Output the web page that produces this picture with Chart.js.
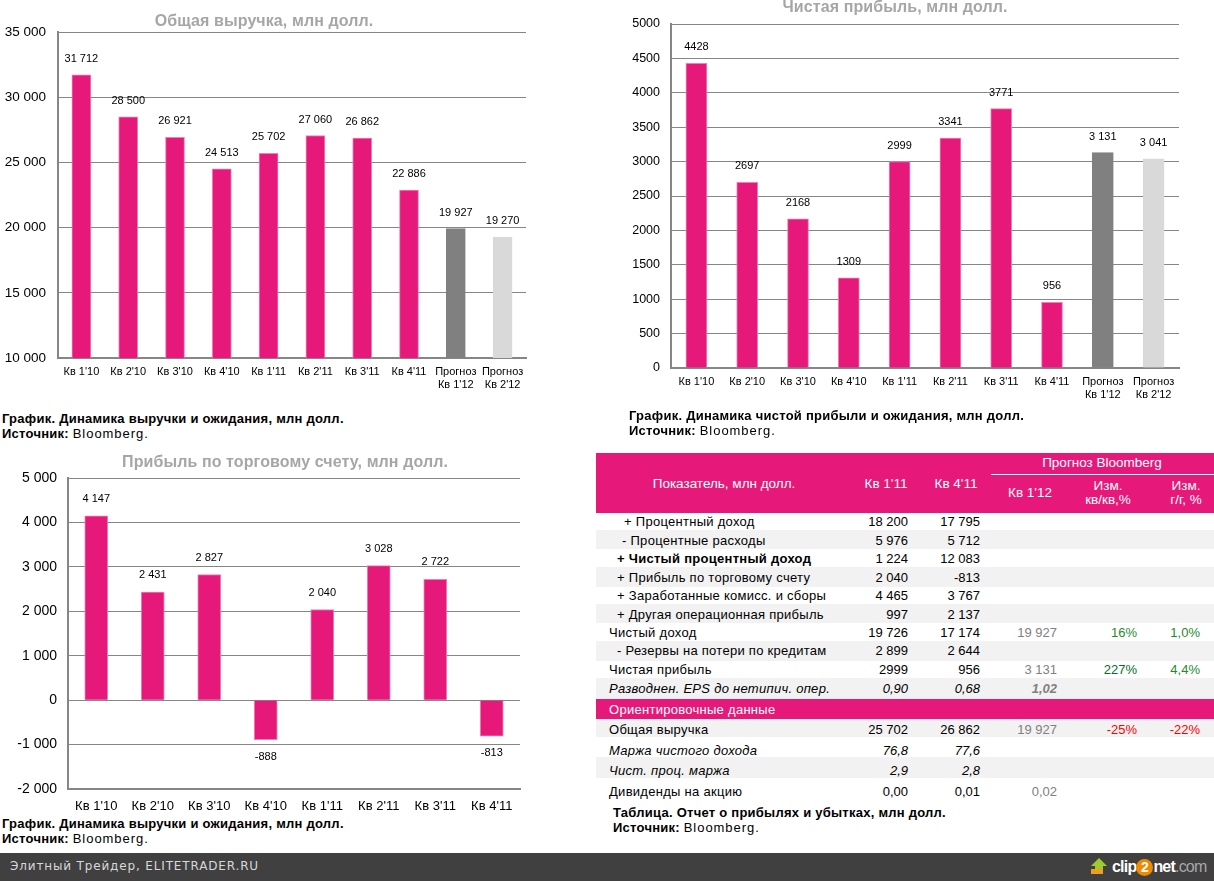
<!DOCTYPE html>
<html>
<head>
<meta charset="utf-8">
<title>Отчет</title>
<script src="https://cdn.jsdelivr.net/npm/chart.js@4/dist/chart.umd.min.js"></script>
<style>
  html, body { margin: 0; padding: 0; background: #fff; }
  body { width: 1214px; height: 881px; position: relative; overflow: hidden; font-family: "Liberation Sans", Arial, sans-serif; color: #000; }
  canvas { position: absolute; }
  .title { position: absolute; font-size: 16px; font-weight: bold; color: #a6a6a6; white-space: nowrap; transform: translateX(-50%); line-height: 18px; letter-spacing: .1px; }
  .note { position: absolute; font-size: 13px; line-height: 15px; white-space: nowrap; letter-spacing: .25px; }
  .note b { font-weight: bold; }
  .note span { letter-spacing: .95px; }
  #table { position: absolute; left: 596px; top: 453px; width: 618px; height: 346px; font-size: 13px; }
  .row { position: absolute; left: 0; width: 618px; }
  .cell { position: absolute; white-space: nowrap; }
  .cell.name { letter-spacing: .28px; }
  .head { position: absolute; color: #fff; text-align: center; transform: translateX(-50%); line-height: 14px; white-space: nowrap; font-size: 13.5px; }
  #footer { position: absolute; left: 0; top: 853px; width: 1214px; height: 28px; background: #404040; }
  #footer span.site { position: absolute; left: 10px; top: 6px; font: 12px "DejaVu Sans", sans-serif; color: #d8d8d8; letter-spacing: .85px; }
  #logo { position: absolute; left: 1112px; top: 3px; font: bold 16px "Liberation Sans", sans-serif; letter-spacing: -.8px; color: #fff; line-height: 22px; }
  #logo i { font-style: normal; display: inline-block; width: 17px; height: 17px; line-height: 17px; border-radius: 9px; background: #f08a00; text-align: center; font-size: 14px; letter-spacing: 0; }
  #logo em { font-style: normal; font-weight: normal; color: #a8a8a8; }
</style>
</head>
<body>
<canvas id="revenueChart" style="left:0;top:0" width="560" height="410"></canvas>
<canvas id="netChart" style="left:600px;top:0" width="614" height="410"></canvas>
<canvas id="tradingChart" style="left:0;top:450px" width="560" height="365"></canvas>

<div class="title" style="left:264px;top:12px">Общая выручка, млн долл.</div>
<div class="title" style="left:895px;top:-2px">Чистая прибыль, млн долл.</div>
<div class="title" style="left:285px;top:453px">Прибыль по торговому счету, млн долл.</div>

<div class="note" style="left:2px;top:411px"><b>График. Динамика выручки и ожидания, млн долл.</b><br><b>Источник:</b> <span>Bloomberg.</span></div>
<div class="note" style="left:629px;top:408px"><b>График. Динамика чистой прибыли и ожидания, млн долл.</b><br><b>Источник:</b> <span>Bloomberg.</span></div>
<div class="note" style="left:2px;top:816px"><b>График. Динамика выручки и ожидания, млн долл.</b><br><b>Источник:</b> <span>Bloomberg.</span></div>
<div class="note" style="left:613px;top:805px"><b>Таблица. Отчет о прибылях и убытках, млн долл.</b><br><b>Источник:</b> <span>Bloomberg.</span></div>

<div id="table"></div>

<div id="footer">
  <span class="site">Элитный Трейдер, ELITETRADER.RU</span>
  <svg style="position:absolute;left:1090px;top:4px" width="18" height="20" viewBox="0 0 18 20">
    <path d="M9 1 L17 9 L13 9 L13 14 L5 14 L5 9 L1 9 Z" fill="#9ccc2e"/>
    <rect x="1" y="12" width="12" height="5" fill="#f0a020"/>
  </svg>
  <div id="logo">clip<i>2</i>net<em>.com</em></div>
</div>

<script>
const quarters = ["Кв 1'10", "Кв 2'10", "Кв 3'10", "Кв 4'10", "Кв 1'11", "Кв 2'11", "Кв 3'11", "Кв 4'11"];
const forecastQuarters = [['Прогноз', "Кв 1'12"], ['Прогноз', "Кв 2'12"]];

const revenue = [31712, 28500, 26921, 24513, 25702, 27060, 26862, 22886, 19927, 19270];
const revenueLabels = ['31 712', '28 500', '26 921', '24 513', '25 702', '27 060', '26 862', '22 886', '19 927', '19 270'];
const netIncome = [4428, 2697, 2168, 1309, 2999, 3341, 3771, 956, 3131, 3041];
const netIncomeLabels = ['4428', '2697', '2168', '1309', '2999', '3341', '3771', '956', '3 131', '3 041'];
const tradingIncome = [4147, 2431, 2827, -888, 2040, 3028, 2722, -813];
const tradingLabels = ['4 147', '2 431', '2 827', '-888', '2 040', '3 028', '2 722', '-813'];

// table columns
const rowNames = ['+ Процентный доход', '- Процентные расходы', '+ Чистый процентный доход', '+ Прибыль по торговому счету',
  '+ Заработанные комисс. и сборы', '+ Другая операционная прибыль', 'Чистый доход', '- Резервы на потери по кредитам',
  'Чистая прибыль', 'Разводнен. EPS до нетипич. опер.', 'Ориентировочные данные', 'Общая выручка', 'Маржа чистого дохода',
  'Чист. проц. маржа', 'Дивиденды на акцию'];
const colQ111 = ['18 200', '5 976', '1 224', '2 040', '4 465', '997', '19 726', '2 899', '2999', '0,90', '', '25 702', '76,8', '2,9', '0,00'];
const colQ411 = ['17 795', '5 712', '12 083', '-813', '3 767', '2 137', '17 174', '2 644', '956', '0,68', '', '26 862', '77,6', '2,8', '0,01'];
const colQ112 = ['', '', '', '', '', '', '19 927', '', '3 131', '1,02', '', '19 927', '', '', '0,02'];
const colQoQ = ['', '', '', '', '', '', '16%', '', '227%', '', '', '-25%', '', '', ''];
const colYoY = ['', '', '', '', '', '', '1,0%', '', '4,4%', '', '', '-22%', '', '', ''];

const pink = '#e6197a';
const paleEdge = '#f07fb4';
const gridGrey = '#868686';
const barColors = [pink, pink, pink, pink, pink, pink, pink, pink, '#808080', '#d9d9d9'];
const barEdges = [paleEdge, paleEdge, paleEdge, paleEdge, paleEdge, paleEdge, paleEdge, paleEdge, '#808080', '#d9d9d9'];

// value labels over the bars
const valueLabelPlugin = {
  id: 'valueLabels',
  afterDatasetsDraw(chart, args, opts) {
    const ctx = chart.ctx;
    const meta = chart.getDatasetMeta(0);
    ctx.save();
    ctx.font = '11px "Liberation Sans"';
    ctx.fillStyle = '#000';
    ctx.textAlign = 'center';
    ctx.textBaseline = 'middle';
    meta.data.forEach((bar, i) => {
      const up = chart.data.datasets[0].data[i] >= 0;
      ctx.fillText(opts.text[i], bar.x, bar.y + (up ? -opts.gap : opts.gap));
    });
    ctx.restore();
  }
};

function barChart(id, cfg) {
  const canvas = document.getElementById(id);
  return new Chart(canvas.getContext('2d'), {
    type: 'bar',
    plugins: [valueLabelPlugin],
    data: {
      labels: cfg.labels,
      datasets: [{ data: cfg.values, backgroundColor: cfg.colors, borderColor: cfg.edges, borderWidth: 1, barThickness: cfg.barWidth }]
    },
    options: {
      responsive: false,
      animation: false,
      devicePixelRatio: 1,
      layout: { padding: { top: cfg.top, right: canvas.width - cfg.right, left: 0, bottom: 0 } },
      plugins: {
        legend: { display: false },
        tooltip: { enabled: false },
        valueLabels: { text: cfg.valueLabels, gap: cfg.gap }
      },
      scales: {
        x: {
          grid: { display: false, drawTicks: false },
          border: { color: gridGrey, width: 2 },
          ticks: { color: '#000', font: { family: 'Liberation Sans', size: cfg.xFont, lineHeight: 1.2 }, maxRotation: 0, autoSkip: false, padding: cfg.xPad },
          afterFit(scale) { scale.height = cfg.xHeight; }
        },
        y: {
          min: cfg.min,
          max: cfg.max,
          grid: { color: gridGrey, lineWidth: 1, drawTicks: false },
          border: { color: gridGrey, width: 2 },
          ticks: {
            stepSize: cfg.step,
            color: '#000',
            padding: cfg.yPad,
            font: { family: 'Liberation Sans', size: cfg.yFont },
            callback: cfg.yFormat
          },
          afterFit(scale) { scale.width = cfg.left; }
        }
      }
    }
  });
}

const spaced = v => String(Math.abs(v)).replace(/\B(?=(\d{3})+$)/g, ' ').replace(/^/, v < 0 ? '-' : '');

barChart('revenueChart', {
  labels: quarters.concat(forecastQuarters), values: revenue, colors: barColors, edges: barEdges, valueLabels: revenueLabels,
  barWidth: 19, left: 58, right: 526, top: 32, xHeight: 52, xFont: 11, yFont: 13.5, xPad: 7, yPad: 12, gap: 16,
  min: 10000, max: 35000, step: 5000, yFormat: spaced
});
barChart('netChart', {
  labels: quarters.concat(forecastQuarters), values: netIncome, colors: barColors, edges: barEdges, valueLabels: netIncomeLabels,
  barWidth: 21, left: 71, right: 579, top: 24, xHeight: 42, xFont: 11, yFont: 12.5, xPad: 7, yPad: 11, gap: 16,
  min: 0, max: 5000, step: 500, yFormat: v => String(v)
});
barChart('tradingChart', {
  labels: quarters, values: tradingIncome, colors: pink, edges: paleEdge, valueLabels: tradingLabels,
  barWidth: 23, left: 68, right: 520, top: 28, xHeight: 26, xFont: 13, yFont: 14, xPad: 10, yPad: 11, gap: 17,
  min: -2000, max: 5000, step: 1000, yFormat: spaced
});

// table, drawn as plain html
const table = document.getElementById('table');
const rowTops = [60, 77, 96, 114, 134, 151, 170, 188, 208, 225, 246, 266, 284, 304, 325, 346];
const rowIndent = [28, 26, 21, 21, 21, 21, 13, 21, 13, 13, 13, 13, 13, 13, 13];
const rowShift = [0, 1, 1, 1, 0, 1, 1, 0, 0, 0, 1, 2, 4, 3, 3];
const boldRows = [2];
const italicRows = [9, 12, 13];
const sectionRow = 10;
const colRight = [312, 384, 461, 541, 604];
const colColors = ['#000', '#000', '#808080', null, null];

function addHead(text, center, y) {
  const d = document.createElement('div');
  d.className = 'head';
  d.style.left = center + 'px';
  d.style.top = y + 'px';
  d.innerHTML = text;
  table.appendChild(d);
}

const headBg = document.createElement('div');
headBg.style.cssText = 'position:absolute;left:0;top:0;width:618px;height:60px;background:' + pink;
table.appendChild(headBg);
const headLine = document.createElement('div');
headLine.style.cssText = 'position:absolute;left:395px;top:21px;width:223px;height:1px;background:#fff';
table.appendChild(headLine);
addHead('Показатель, млн долл.', 128, 24);
addHead("Кв 1'11", 290, 24);
addHead("Кв 4'11", 360, 24);
addHead('Прогноз Bloomberg', 506, 3);
addHead("Кв 1'12", 434, 33);
addHead('Изм.<br>кв/кв,%', 512, 26);
addHead('Изм.<br>г/г, %', 590, 26);

rowNames.forEach((name, i) => {
  const row = document.createElement('div');
  row.className = 'row';
  const h = rowTops[i + 1] - rowTops[i];
  row.style.top = rowTops[i] + 'px';
  row.style.height = h + 'px';
  row.style.lineHeight = h + 'px';
  if (i === sectionRow) { row.style.background = pink; row.style.color = '#fff'; }
  else if (i % 2 === 1) row.style.background = '#f2f2f2';
  if (italicRows.includes(i)) row.style.fontStyle = 'italic';

  const label = document.createElement('div');
  label.className = 'cell name';
  label.style.left = rowIndent[i] + 'px';
  label.style.top = rowShift[i] + 'px';
  label.textContent = name;
  if (boldRows.includes(i)) label.style.fontWeight = 'bold';
  row.appendChild(label);

  [colQ111, colQ411, colQ112, colQoQ, colYoY].forEach((col, c) => {
    if (!col[i]) return;
    const cell = document.createElement('div');
    cell.className = 'cell';
    cell.style.right = (618 - colRight[c]) + 'px';
    cell.style.top = rowShift[i] + 'px';
    cell.textContent = col[i];
    if (c === 2 && i === 9) cell.style.fontWeight = 'bold';
    cell.style.color = colColors[c] || (col[i].startsWith('-') ? '#ff0000' : i === 8 && c === 3 ? '#00702a' : '#1f8a2e');
    row.appendChild(cell);
  });
  table.appendChild(row);
});
</script>
</body>
</html>
